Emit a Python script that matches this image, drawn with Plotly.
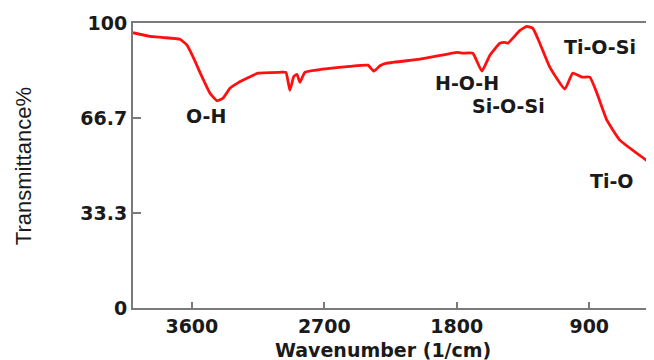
import plotly.graph_objects as go

wavenumber = [4000, 3885, 3796, 3681, 3633, 3592, 3531, 3477, 3429, 3389, 3341, 3287, 3226, 3151,
              3002, 2961, 2934, 2907, 2886, 2866, 2832, 2662, 2526, 2404, 2363, 2322, 2275, 2051,
              1793, 1759, 1691, 1630, 1575, 1507, 1473, 1453, 1371, 1324, 1283, 1236, 1168, 1066,
              1012, 950, 896, 848, 780, 692, 577, 470]
transmittance = [96.6, 95.3, 94.9, 94.3, 92.2, 88.1, 81.1, 75.4, 72.7, 73.6, 77.1, 79.0, 80.6, 82.4,
                 82.7, 82.7, 76.4, 81.3, 82.0, 79.2, 82.7, 84.1, 84.8, 85.2, 83.1, 85.0, 85.9, 87.3,
                 89.7, 89.4, 89.4, 83.1, 88.7, 92.9, 93.2, 92.9, 97.4, 98.8, 98.1, 92.9, 84.5, 76.8,
                 82.4, 81.0, 81.0, 75.4, 65.9, 58.9, 54.3, 50.3]

x_ticks = [3600, 2700, 1800, 900]
y_ticks = [0, 33.3, 66.7, 100]
y_ticklabels = ["0", "33.3", "66.7", "100"]

band_labels = ["O-H", "H-O-H", "Si-O-Si", "Ti-O-Si", "Ti-O"]
band_x = [3504, 1731, 1446, 828, 747]
band_y = [67.3, 78.9, 70.8, 91.5, 44.5]

x_title = "Wavenumber (1/cm)"
y_title = "Transmittance%"

FONT = "DejaVu Sans"
TXT = "#1a1a1a"
AX = "#7a7a7a"

fig = go.Figure()
fig.add_trace(go.Scatter(x=wavenumber, y=transmittance, mode="lines",
                         line=dict(color="#ff1010", width=2.8, shape="spline", smoothing=0.4),
                         hoverinfo="skip", showlegend=False))

for t, x, y in zip(band_labels, band_x, band_y):
    fig.add_annotation(x=x, y=y, xref="x", yref="y", text=t, showarrow=False,
                       font=dict(family=FONT, size=19, color=TXT, weight="bold"))

fig.add_annotation(x=0.48, y=-0.147, xref="paper", yref="paper", text=x_title,
                   showarrow=False, xanchor="center", yanchor="middle",
                   font=dict(family=FONT, size=19, color=TXT, weight="bold"))
fig.add_annotation(x=-0.211, y=0.498, xref="paper", yref="paper", text=y_title,
                   showarrow=False, xanchor="center", yanchor="middle", textangle=-90,
                   font=dict(family="Liberation Sans Narrow, Liberation Sans", size=22, color=TXT))

fig.update_layout(
    width=646, height=352,
    margin=dict(l=125, r=0, t=15, b=52),
    paper_bgcolor="white", plot_bgcolor="white",
    xaxis=dict(range=[4000, 460], tickvals=x_ticks, ticktext=[str(v) for v in x_ticks],
               automargin=False,
               showgrid=False, zeroline=False, showline=True, linecolor=AX, linewidth=2,
               mirror=True, ticks="inside", ticklen=6, tickwidth=1.5, tickcolor=AX,
               tickfont=dict(family=FONT, size=19, color=TXT, weight="bold")),
    yaxis=dict(range=[0, 100], tickvals=y_ticks, ticktext=y_ticklabels,
               automargin=False,
               showgrid=False, zeroline=False, showline=True, linecolor=AX, linewidth=2,
               ticks="inside", ticklen=8, tickwidth=1.5, tickcolor=AX, ticklabelstandoff=0,
               tickfont=dict(family=FONT, size=19, color=TXT, weight="bold")),
)

fig.write_html("out.html")
